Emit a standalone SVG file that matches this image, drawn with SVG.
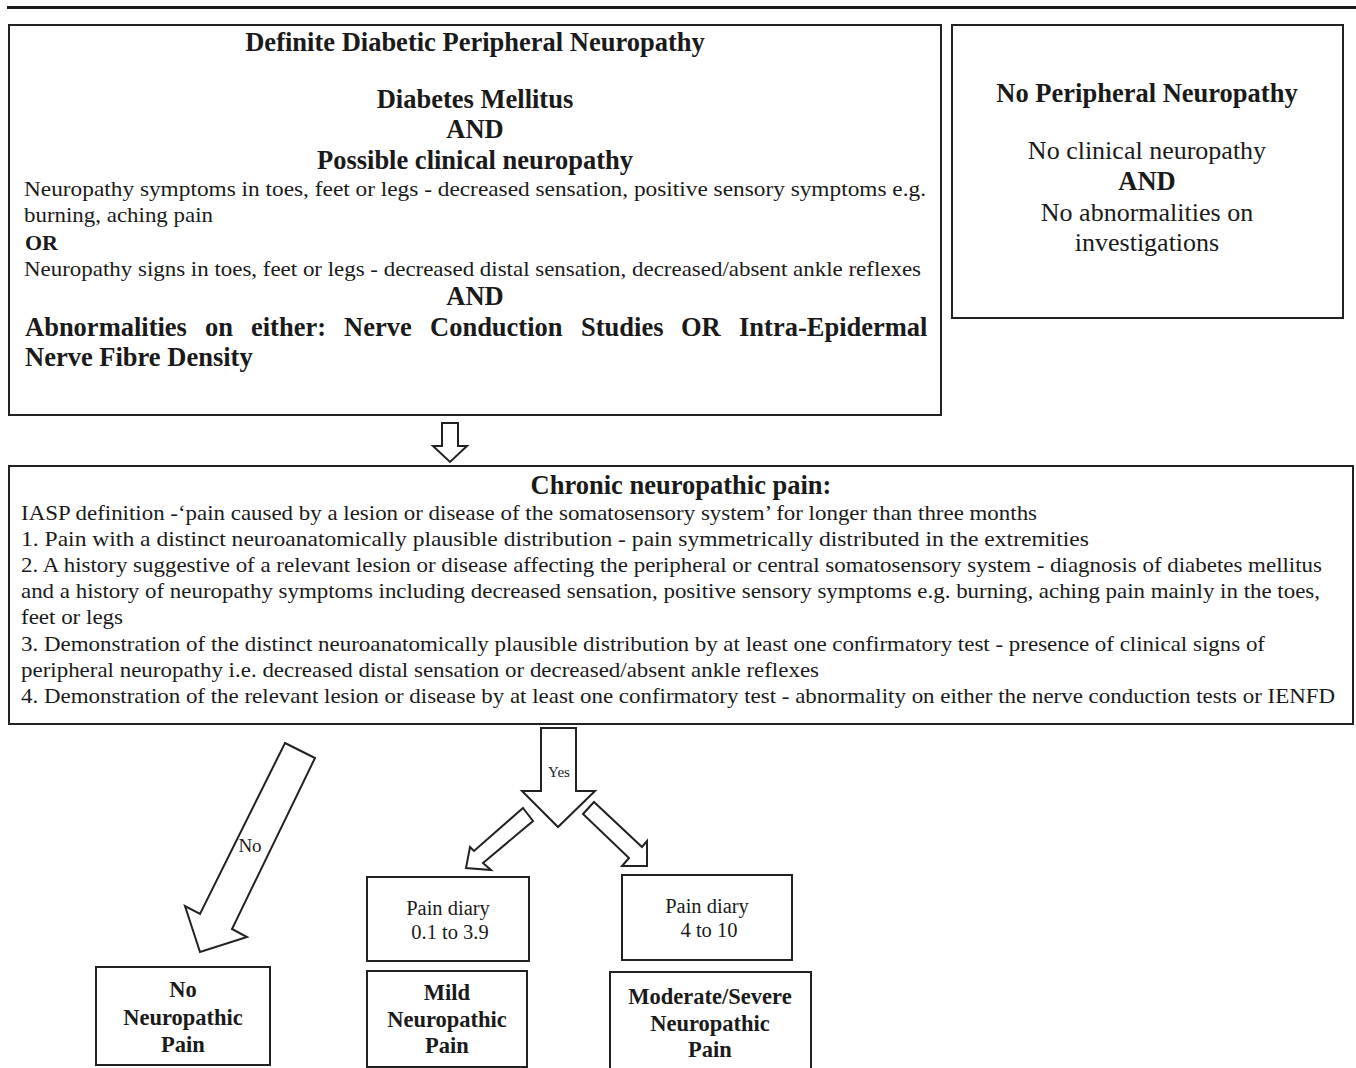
<svg xmlns="http://www.w3.org/2000/svg" width="1356" height="1068" viewBox="0 0 1356 1068">
<style>
.box{fill:#fff;stroke:#222;stroke-width:2}
.arr{fill:#fff;stroke:#222;stroke-width:2;stroke-linejoin:miter}
text{font-family:"Liberation Serif","Times New Roman",serif;fill:#1a1a1a}
.b{font-weight:bold}
.h{font-size:26.5px;font-weight:bold;text-anchor:middle}
.r{font-size:21px}
.rc{font-size:26px;text-anchor:middle}
.s{font-size:20.5px;text-anchor:middle}
.bb{font-size:22.5px;font-weight:bold;text-anchor:middle}
</style>
<rect x="0" y="0" width="1356" height="1068" fill="#fff"/>
<line x1="7" y1="7.5" x2="1356" y2="7.5" stroke="#1a1a1a" stroke-width="3"/>

<g id="definite-dpn">
<rect class="box" x="9" y="25" width="932" height="390"/>
<text class="h" x="475" y="51">Definite Diabetic Peripheral Neuropathy</text>
<text class="h" x="475" y="108">Diabetes Mellitus</text>
<text class="h" x="475" y="138">AND</text>
<text class="h" x="475" y="169">Possible clinical neuropathy</text>
<text class="r" x="24" y="196" textLength="902" lengthAdjust="spacingAndGlyphs">Neuropathy symptoms in toes, feet or legs - decreased sensation, positive sensory symptoms e.g.</text>
<text class="r" x="24" y="222" textLength="189" lengthAdjust="spacingAndGlyphs">burning, aching pain</text>
<text class="b" x="25" y="250" font-size="22px">OR</text>
<text class="r" x="24" y="276" textLength="897" lengthAdjust="spacingAndGlyphs">Neuropathy signs in toes, feet or legs - decreased distal sensation, decreased/absent ankle reflexes</text>
<text class="h" x="475" y="305">AND</text>
<text class="b" font-size="26.5px" y="336"><tspan x="25">Abnormalities</tspan><tspan x="205">on</tspan><tspan x="251">either:</tspan><tspan x="344">Nerve</tspan><tspan x="430">Conduction</tspan><tspan x="581">Studies</tspan><tspan x="681">OR</tspan><tspan x="739">Intra-Epidermal</tspan></text>
<text class="b" font-size="26.5px" x="25" y="366">Nerve Fibre Density</text>
</g>

<g id="no-pn">
<rect class="box" x="952" y="25" width="391" height="293"/>
<text class="h" x="1147" y="102">No Peripheral Neuropathy</text>
<text class="rc" x="1147" y="159">No clinical neuropathy</text>
<text class="h" x="1147" y="190">AND</text>
<text class="rc" x="1147" y="221">No abnormalities on</text>
<text class="rc" x="1147" y="251">investigations</text>
</g>

<g id="chronic">
<rect class="box" x="9" y="466" width="1344" height="258"/>
<text class="h" x="681" y="494">Chronic neuropathic pain:</text>
<text class="r" x="21" y="520" textLength="1016" lengthAdjust="spacingAndGlyphs">IASP definition -‘pain caused by a lesion or disease of the somatosensory system’ for longer than three months</text>
<text class="r" x="21" y="546" textLength="1068" lengthAdjust="spacingAndGlyphs">1. Pain with a distinct neuroanatomically plausible distribution - pain symmetrically distributed in the extremities</text>
<text class="r" x="21" y="572" textLength="1301" lengthAdjust="spacingAndGlyphs">2. A history suggestive of a relevant lesion or disease affecting the peripheral or central somatosensory system - diagnosis of diabetes mellitus</text>
<text class="r" x="21" y="598" textLength="1299" lengthAdjust="spacingAndGlyphs">and a history of neuropathy symptoms including decreased sensation, positive sensory symptoms e.g. burning, aching pain mainly in the toes,</text>
<text class="r" x="21" y="624" textLength="102" lengthAdjust="spacingAndGlyphs">feet or legs</text>
<text class="r" x="21" y="651" textLength="1244" lengthAdjust="spacingAndGlyphs">3. Demonstration of the distinct neuroanatomically plausible distribution by at least one confirmatory test - presence of clinical signs of</text>
<text class="r" x="21" y="677" textLength="798" lengthAdjust="spacingAndGlyphs">peripheral neuropathy i.e. decreased distal sensation or decreased/absent ankle reflexes</text>
<text class="r" x="21" y="703" textLength="1314" lengthAdjust="spacingAndGlyphs">4. Demonstration of the relevant lesion or disease by at least one confirmatory test - abnormality on either the nerve conduction tests or IENFD</text>
</g>

<g id="diary-mild">
<rect class="box" x="367" y="877" width="162" height="84"/>
<text class="s" x="448" y="915">Pain diary</text>
<text class="s" x="450" y="939">0.1 to 3.9</text>
</g>

<g id="diary-severe">
<rect class="box" x="622" y="875" width="170" height="85"/>
<text class="s" x="707" y="913">Pain diary</text>
<text class="s" x="709" y="937">4 to 10</text>
</g>

<g id="no-npp">
<rect class="box" x="96" y="967" width="174" height="98"/>
<text class="bb" x="183" y="997">No</text>
<text class="bb" x="183" y="1025">Neuropathic</text>
<text class="bb" x="183" y="1052">Pain</text>
</g>

<g id="mild-npp">
<rect class="box" x="367" y="971" width="160" height="96"/>
<text class="bb" x="447" y="1000">Mild</text>
<text class="bb" x="447" y="1027">Neuropathic</text>
<text class="bb" x="447" y="1053">Pain</text>
</g>

<g id="severe-npp">
<rect class="box" x="610" y="972" width="201" height="102"/>
<text class="bb" x="710" y="1004">Moderate/Severe</text>
<text class="bb" x="710" y="1031">Neuropathic</text>
<text class="bb" x="710" y="1057">Pain</text>
</g>

<g id="connectors">
<polygon class="arr" points="442,423 458,423 458,446 467,446 450,462 433,446 442,446"/>
<polygon class="arr" points="541,728 576,728 576,791 595,791 558,827 522,791 541,791"/>
<polygon class="arr" points="583,814 594,802 642,847 647,841 647,866 622,866 629,858"/>
<polygon class="arr" points="523,808 533,821 483,863 491,870 466,868 470,847 474,851"/>
<polygon class="arr" points="285,743 315,758 232,929 247,937 200,952 185,906 200,914"/>
<text x="559" y="777" font-size="15px" text-anchor="middle">Yes</text>
<text x="250" y="852" font-size="19px" text-anchor="middle">No</text>
</g>
</svg>
